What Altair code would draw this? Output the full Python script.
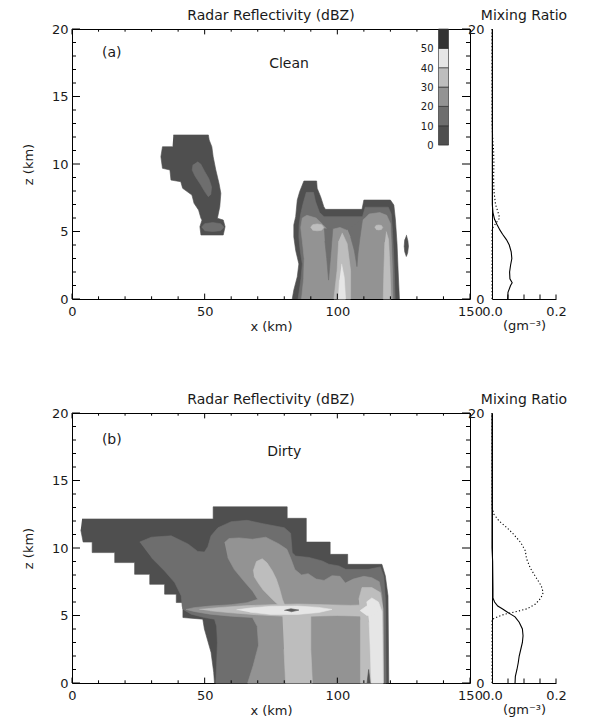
import altair as alt
import pandas as pd

FONT = "DejaVu Sans"
TXT = "#1a1a1a"

# ------------------------------------------------------------------ data
# reflectivity colour table (dBZ classes)
dbz_lo = [0, 10, 20, 30, 40, 50]
dbz_hi = [10, 20, 30, 40, 50, 60]
dbz_text = ["0", "10", "20", "30", "40", "50"]
dbz_colors = ["#4f4f4f", "#6e6e6e", "#939393", "#bdbdbd", "#e6e6e6", "#333333"]
core_color = "#5a5a5a"

# axis ticks
x_major = [0, 50, 100, 150]
x_minor = [10, 20, 30, 40, 60, 70, 80, 90, 110, 120, 130, 140]
z_major = [0, 5, 10, 15, 20]
z_minor = [1, 2, 3, 4, 6, 7, 8, 9, 11, 12, 13, 14, 16, 17, 18, 19]
mr_ticks = [0.05, 0.10, 0.15, 0.20]

# panel annotations
panel_tag = ["(a)", "(b)"]
tag_x = [15.0, 15.0]
tag_z = [18.2, 18.0]
case_name = ["Clean", "Dirty"]
case_x = [81.8, 80.0]
case_z = [17.4, 17.1]

# ---- contour polygons, clean case (x km, z km)
clean_c1_l0 = [(38.2, 12.15), (51.4, 12.15), (51.7, 11.78), (52.7, 11.28), (53.2, 10.54), (54.2, 9.56),
               (55.4, 8.57), (56.1, 7.83), (55.7, 6.84), (54.8, 5.98), (57.0, 5.85), (57.7, 5.36),
               (57.0, 4.74), (48.6, 4.74), (48.2, 5.36), (49.0, 5.85), (48.6, 5.98), (47.7, 6.59),
               (46.0, 7.09), (45.2, 7.7), (41.7, 8.2), (41.0, 8.69), (37.3, 8.81), (36.9, 9.56),
               (34.1, 9.68), (33.5, 10.54), (34.1, 11.28), (37.9, 11.28)]
clean_c1_l1a = [(47.3, 10.17), (48.5, 10.0), (50.0, 9.45), (51.6, 8.9), (52.6, 8.3), (52.3, 7.75),
                (51.4, 7.58), (50.2, 7.9), (48.4, 8.5), (46.4, 9.1), (45.3, 9.55), (45.6, 9.95)]
clean_c1_l1b = [(48.8, 5.32), (50.0, 5.58), (53.0, 5.66), (56.0, 5.58), (57.3, 5.32), (56.0, 5.06),
                (53.0, 5.0), (50.0, 5.06)]
clean_c2_l0 = [(83.0, 0.0), (83.6, 0.67), (84.9, 1.65), (85.5, 2.6), (84.3, 3.6), (83.6, 4.6), (83.6, 5.5),
               (84.3, 6.1), (84.9, 7.33), (85.8, 7.95), (87.4, 8.74), (92.2, 8.74), (92.4, 8.2),
               (93.7, 7.58), (94.9, 6.84), (95.5, 6.64), (109.3, 6.64), (110.0, 7.33), (120.0, 7.33),
               (121.3, 6.96), (121.9, 5.85), (122.5, 4.1), (122.9, 2.15), (123.4, 0.0)]
clean_c2_l1 = [(85.2, 0.0), (86.3, 1.5), (86.8, 2.6), (86.0, 3.6), (85.5, 4.6), (85.6, 5.5), (86.2, 6.3),
               (87.0, 7.0), (88.3, 7.9), (91.0, 7.9), (91.8, 7.2), (93.3, 6.4), (95.0, 6.1), (109.5, 6.1),
               (110.5, 6.8), (119.2, 6.8), (120.3, 6.3), (120.8, 5.0), (121.3, 3.0), (121.8, 0.0)]
clean_c2_l2 = [(86.5, 0.0), (87.3, 1.5), (87.5, 3.0), (86.8, 4.3), (86.2, 5.3), (86.8, 6.0), (88.5, 6.2),
               (92.0, 6.0), (94.6, 5.5), (96.5, 5.1), (99.0, 5.2), (101.0, 5.3), (103.5, 5.1),
               (105.5, 5.2), (108.0, 5.6), (110.5, 6.0), (112.0, 6.3), (116.0, 6.4), (118.6, 6.2),
               (120.0, 5.6), (120.4, 4.0), (120.8, 2.0), (121.0, 0.0)]
clean_c2_t1 = [(95.0, 5.2), (98.3, 5.2), (97.6, 3.5), (96.7, 1.4), (96.0, 3.0), (95.3, 4.3)]
clean_c2_t2 = [(103.8, 5.15), (109.5, 5.9), (108.5, 4.5), (107.8, 3.4), (107.4, 2.4), (106.4, 3.6),
               (105.0, 4.6)]
clean_c2_e1 = [(89.9, 5.3), (90.7, 5.5), (92.4, 5.56), (94.1, 5.5), (94.9, 5.3), (94.1, 5.1), (92.4, 5.05),
               (90.7, 5.1)]
clean_c2_e2 = [(114.1, 5.3), (114.6, 5.45), (115.6, 5.48), (116.6, 5.45), (117.1, 5.3), (116.6, 5.15),
               (115.6, 5.12), (114.6, 5.15)]
clean_c2_col = [(101.8, 4.9), (103.7, 4.1), (105.0, 2.1), (105.0, 0.0), (98.7, 0.0), (99.9, 2.1),
                (100.5, 4.3)]
clean_c2_rcol = [(118.4, 5.0), (119.3, 4.4), (119.8, 2.5), (120.2, 0.0), (117.3, 0.0), (117.6, 2.5),
                 (117.9, 4.2)]
clean_c2_core = [(101.6, 2.6), (102.6, 1.6), (103.1, 0.0), (100.4, 0.0), (100.8, 1.4)]
clean_c3_l0 = [(126.0, 4.75), (126.6, 4.3), (126.8, 3.9), (126.5, 3.4), (126.0, 3.15), (125.4, 3.5),
               (125.2, 3.9), (125.4, 4.4)]

clean_polys = [
    (0, clean_c1_l0), (1, clean_c1_l1a), (1, clean_c1_l1b),
    (0, clean_c2_l0), (1, clean_c2_l1), (2, clean_c2_l2), (1, clean_c2_t1), (1, clean_c2_t2),
    (3, clean_c2_e1), (3, clean_c2_e2), (3, clean_c2_col), (3, clean_c2_rcol), (4, clean_c2_core),
    (0, clean_c3_l0),
]

# ---- contour polygons, dirty case
dirty_l0 = [(3.8, 12.15), (53.2, 12.15), (53.2, 13.05), (81.1, 13.05), (81.1, 12.2), (88.3, 12.2),
            (88.3, 10.44), (97.3, 10.44), (97.3, 9.53), (103.9, 9.53), (103.9, 8.79), (116.8, 8.79),
            (118.1, 7.93), (119.1, 6.45), (119.4, 0.0), (53.7, 0.0), (53.4, 0.79), (52.4, 2.27),
            (49.9, 4.0), (49.3, 4.73), (41.8, 4.85), (41.8, 5.96), (39.3, 5.96), (39.3, 6.58),
            (34.9, 6.58), (34.9, 7.31), (29.3, 7.31), (29.3, 8.05), (23.6, 8.05), (23.6, 8.92),
            (16.1, 8.92), (16.1, 9.66), (7.6, 9.66), (7.6, 10.44), (4.2, 10.44), (3.3, 11.35)]
dirty_l1 = [(25.5, 10.44), (29.9, 10.8), (37.4, 10.9), (43.7, 10.3), (47.4, 9.75), (49.9, 9.7),
            (51.2, 10.1), (52.4, 10.9), (55.0, 11.5), (60.0, 11.95), (66.0, 12.05), (72.0, 11.8),
            (80.0, 11.5), (82.4, 11.1), (83.0, 9.65), (84.3, 9.4), (89.3, 9.3), (94.3, 9.04),
            (96.8, 8.8), (100.6, 8.67), (103.1, 8.42), (111.8, 8.42), (116.2, 8.6), (117.5, 7.9),
            (118.1, 6.2), (118.4, 0.0), (54.2, 0.0), (54.5, 1.3), (54.8, 3.0), (54.5, 4.2),
            (53.7, 4.73), (49.9, 4.85), (44.9, 5.1), (41.8, 5.47), (41.5, 5.7), (41.2, 6.45),
            (38.7, 7.44), (34.9, 8.3), (29.9, 9.29)]
dirty_l2 = [(57.5, 10.4), (59.2, 10.7), (63.0, 10.75), (68.0, 10.65), (73.0, 10.8), (78.0, 10.3),
            (81.0, 9.9), (82.5, 9.2), (84.0, 8.4), (86.5, 8.0), (89.0, 8.1), (92.0, 7.7), (95.0, 7.6),
            (98.0, 7.95), (101.0, 7.9), (103.0, 7.4), (106.0, 7.7), (110.0, 7.9), (113.0, 7.8),
            (115.8, 7.5), (116.8, 6.5), (117.2, 5.0), (117.4, 0.0), (66.2, 0.0), (68.3, 1.3),
            (70.3, 2.8), (69.8, 4.2), (68.0, 4.85), (60.0, 4.95), (52.0, 5.1), (46.0, 5.3),
            (43.0, 5.45), (46.0, 5.58), (52.0, 5.7), (60.0, 5.8), (66.0, 5.95), (70.0, 6.2),
            (68.1, 6.8), (65.0, 7.5), (61.2, 8.4), (58.7, 9.3)]
dirty_l3_finger = [(68.3, 8.3), (69.5, 9.0), (71.7, 9.2), (73.5, 8.9), (75.5, 8.3), (77.0, 7.7),
                   (78.2, 7.0), (79.3, 6.2), (80.5, 5.6), (79.3, 5.5), (75.5, 6.2), (72.0, 6.9),
                   (70.2, 7.4), (68.6, 7.9)]
dirty_l3_band = [(48.0, 5.45), (55.0, 5.58), (65.0, 5.72), (75.0, 5.8), (85.0, 5.85), (95.0, 5.8),
                 (105.0, 5.75), (112.0, 5.8), (116.0, 5.7), (116.0, 5.0), (110.0, 4.95), (100.0, 5.0),
                 (90.0, 4.95), (80.0, 4.95), (70.0, 5.05), (60.0, 5.2), (52.0, 5.35)]
dirty_l3_column = [(79.3, 5.0), (90.0, 5.0), (90.0, 2.5), (90.6, 0.0), (80.5, 0.0), (79.9, 2.5)]
dirty_l3_right = [(108.1, 6.2), (109.3, 7.07), (113.0, 7.07), (116.2, 6.7), (117.2, 5.5), (117.4, 0.0),
                  (108.7, 0.0), (108.7, 4.7)]
dirty_l4_lens = [(62.0, 5.42), (67.0, 5.55), (75.0, 5.68), (85.0, 5.7), (93.0, 5.6), (98.0, 5.45),
                 (93.0, 5.22), (85.0, 5.08), (75.0, 5.08), (67.0, 5.25)]
dirty_l4_right = [(111.0, 6.0), (113.0, 6.3), (115.5, 6.0), (116.8, 5.3), (117.2, 0.0), (112.8, 0.0),
                  (112.5, 2.0), (112.0, 4.5)]
dirty_l4_rlens = [(108.5, 5.35), (111.0, 5.7), (114.0, 5.65), (115.5, 5.35), (114.0, 5.05), (111.0, 5.0)]
dirty_core = [(80.0, 5.38), (82.5, 5.5), (85.5, 5.4), (82.5, 5.27)]
dirty_spike = [(111.2, 0.0), (111.8, 1.0), (112.4, 0.0)]

dirty_polys = [
    (0, dirty_l0), (1, dirty_l1), (2, dirty_l2), (3, dirty_l3_finger), (3, dirty_l3_band),
    (3, dirty_l3_column), (3, dirty_l3_right), (4, dirty_l4_lens), (4, dirty_l4_right),
    (4, dirty_l4_rlens), (5, dirty_core), (0, dirty_spike),
]

# ---- mixing ratio profiles (g m^-3) against height (km)
clean_solid_z = [0, 0.5, 1.0, 1.2, 1.5, 2.0, 2.5, 3.0, 3.5, 4.0, 4.4, 4.8, 5.1, 5.5, 5.9, 6.4, 7.0, 20]
clean_solid_v = [0.049, 0.050, 0.058, 0.063, 0.056, 0.055, 0.058, 0.062, 0.060, 0.054, 0.045, 0.033,
                 0.025, 0.016, 0.008, 0.003, 0.001, 0.001]
clean_dot_z = [0, 5.2, 5.6, 6.0, 6.5, 7.0, 8.0, 9.0, 10.0, 11.0, 12.0, 13.0, 20]
clean_dot_v = [0, 0, 0.012, 0.024, 0.018, 0.011, 0.006, 0.005, 0.006, 0.005, 0.002, 0, 0]
dirty_solid_z = [0, 0.5, 1.0, 1.5, 2.0, 2.5, 3.0, 3.5, 4.0, 4.5, 4.9, 5.1, 5.3, 5.5, 5.7, 6.0, 6.3, 7.0,
                 9.0, 10, 20]
dirty_solid_v = [0.072, 0.073, 0.078, 0.082, 0.085, 0.090, 0.095, 0.097, 0.095, 0.085, 0.072, 0.058,
                 0.045, 0.032, 0.018, 0.008, 0.003, 0.003, 0.002, 0.0, 0.0]
dirty_dot_z = [0, 4.7, 4.9, 5.1, 5.25, 5.5, 5.85, 6.3, 6.7, 7.2, 7.8, 8.5, 9.2, 9.8, 10.4, 11.0, 11.5,
               12.0, 12.5, 13.0, 20]
dirty_dot_v = [0, 0, 0.018, 0.040, 0.070, 0.110, 0.136, 0.153, 0.160, 0.154, 0.138, 0.120, 0.108,
               0.104, 0.090, 0.068, 0.047, 0.022, 0.006, 0.0, 0.0]

# ------------------------------------------------------------------ layout
W, H = 398, 270          # main panel plot area
SW = 64                  # mixing-ratio panel width
XT_MAJ, XT_MIN = 5.4, 2.7
ZT_MAJ, ZT_MIN = 8.0, 4.0
CB_Z0 = 11.4             # colour bar bottom (km) / top at 20 km
CB_K = (20.0 - CB_Z0) / 60.0
CB_PX0, CB_PX1 = 366.5, 376.5

level_fill = dbz_colors[:5] + [core_color]

x_scale = alt.Scale(domain=[0, 150], nice=False, zero=False)
z_scale = alt.Scale(domain=[0, 20], nice=False, zero=False)
x_axis = alt.Axis(values=x_major, format="d", title="x (km)", domain=False, ticks=False,
                  labelPadding=6, titlePadding=2, labelFlush=False, labelFontSize=13, titleFontSize=13)
z_axis = alt.Axis(values=z_major, format="d", title="z (km)", domain=False, ticks=False,
                  labelPadding=4, titlePadding=16, labelFontSize=13, titleFontSize=13)


def ex(field="x"):
    return alt.X(f"{field}:Q", scale=x_scale, axis=x_axis)


def ez(field="z"):
    return alt.Y(f"{field}:Q", scale=z_scale, axis=z_axis)


def poly_layer(level, pts):
    df = pd.DataFrame({"x": [p[0] for p in pts], "z": [p[1] for p in pts],
                       "i": list(range(len(pts)))})
    c = level_fill[level]
    return alt.Chart(df).mark_line(fill=c, stroke=c, strokeWidth=0.6, strokeJoin="round").encode(
        x=ex(), y=ez(), order="i:Q")


def tick_layers():
    out = []
    for vals, ln in ((x_major, XT_MAJ), (x_minor, XT_MIN)):
        d = pd.DataFrame({"x": vals})
        out.append(alt.Chart(d).mark_rule(color="black", strokeWidth=1).encode(
            x=ex(), y=alt.value(H), y2=alt.value(H - ln)))
        out.append(alt.Chart(d).mark_rule(color="black", strokeWidth=1).encode(
            x=ex(), y=alt.value(0), y2=alt.value(ln)))
    for vals, ln in ((z_major, ZT_MAJ), (z_minor, ZT_MIN)):
        d = pd.DataFrame({"z": vals})
        out.append(alt.Chart(d).mark_rule(color="black", strokeWidth=1).encode(
            y=ez(), x=alt.value(0), x2=alt.value(ln)))
        out.append(alt.Chart(d).mark_rule(color="black", strokeWidth=1).encode(
            y=ez(), x=alt.value(W), x2=alt.value(W - ln)))
    return out


def colorbar_layers():
    cb = pd.DataFrame({"lo": dbz_lo, "hi": dbz_hi, "t": dbz_text})
    bar = alt.Chart(cb).transform_calculate(
        z=f"{CB_Z0} + datum.lo * {CB_K}", z_top=f"{CB_Z0} + datum.hi * {CB_K}"
    ).mark_rect(stroke="#222222", strokeWidth=0.6).encode(
        y=ez(), y2="z_top:Q", x=alt.value(CB_PX0), x2=alt.value(CB_PX1),
        color=alt.Color("t:N", scale=alt.Scale(domain=dbz_text, range=dbz_colors), legend=None))
    lab = alt.Chart(cb).transform_calculate(
        z=f"{CB_Z0} + datum.lo * {CB_K}"
    ).mark_text(align="right", baseline="middle", font=FONT, fontSize=10, color=TXT, dy=1).encode(
        y=ez(), x=alt.value(CB_PX0 - 5), text="t:N")
    return [bar, lab]


def text_layers(k):
    d = pd.DataFrame({"x": [tag_x[k], case_x[k]], "z": [tag_z[k], case_z[k]],
                      "t": [panel_tag[k], case_name[k]]})
    return [alt.Chart(d).mark_text(font=FONT, fontSize=14, color=TXT).encode(
        x=ex(), y=ez(), text="t:N")]


def main_panel(polys, k, with_bar):
    layers = [poly_layer(lv, pts) for lv, pts in polys]
    layers += tick_layers()
    if with_bar:
        layers += colorbar_layers()
    layers += text_layers(k)
    return alt.layer(*layers).properties(
        width=W, height=H,
        view=alt.ViewBackground(stroke="black", strokeWidth=1),
        title=alt.TitleParams("Radar Reflectivity (dBZ)", font=FONT, fontSize=14,
                              fontWeight="normal", color=TXT, offset=0, anchor="middle"))


sx_scale = alt.Scale(domain=[0, 0.2], nice=False, zero=False)
sx_axis = alt.Axis(values=[0.0, 0.2], format=".1f", title="(gm⁻³)", domain=True, domainColor="black",
                   ticks=False, labelPadding=6, titlePadding=1, labelFlush=False, labelFontSize=13,
                   titleFontSize=13)
sz_axis = alt.Axis(values=[0, 20], format="d", title="", domain=True, domainColor="black",
                   ticks=False, labelPadding=8, labelFontSize=13)


def side_panel(sz, sv, dz, dv):
    d1 = pd.DataFrame({"v": sv, "z": sz, "i": list(range(len(sz)))})
    d2 = pd.DataFrame({"v": dv, "z": dz, "i": list(range(len(dz)))})
    enc = dict(x=alt.X("v:Q", scale=sx_scale, axis=sx_axis),
               y=alt.Y("z:Q", scale=z_scale, axis=sz_axis), order="i:Q")
    solid = alt.Chart(d1).mark_line(color="black", strokeWidth=1.1).encode(**enc)
    dotted = alt.Chart(d2).mark_line(color="black", strokeWidth=1.1, strokeDash=[1.2, 2.2]).encode(**enc)
    ticks = alt.Chart(pd.DataFrame({"v": mr_ticks})).mark_rule(color="black", strokeWidth=1).encode(
        x=alt.X("v:Q", scale=sx_scale, axis=sx_axis), y=alt.value(H), y2=alt.value(H - 4.5))
    return alt.layer(solid, dotted, ticks).properties(
        width=SW, height=H,
        title=alt.TitleParams("Mixing Ratio", font=FONT, fontSize=14, fontWeight="normal",
                              color=TXT, offset=0, anchor="middle"))


row_a = alt.hconcat(main_panel(clean_polys, 0, True),
                    side_panel(clean_solid_z, clean_solid_v, clean_dot_z, clean_dot_v),
                    spacing=22, bounds="flush")
row_b = alt.hconcat(main_panel(dirty_polys, 1, False),
                    side_panel(dirty_solid_z, dirty_solid_v, dirty_dot_z, dirty_dot_v),
                    spacing=22, bounds="flush")

chart = alt.vconcat(row_a, row_b, spacing=58).properties(
    padding={"left": 13, "top": 0, "right": 2, "bottom": 0}, background="white"
).configure_view(stroke="transparent").configure_axis(
    grid=False, labelFont=FONT, titleFont=FONT, labelColor=TXT, titleColor=TXT,
    titleFontWeight="normal", domainColor="black")

chart.save("out.html", embed_options={"renderer": "svg", "actions": False})
